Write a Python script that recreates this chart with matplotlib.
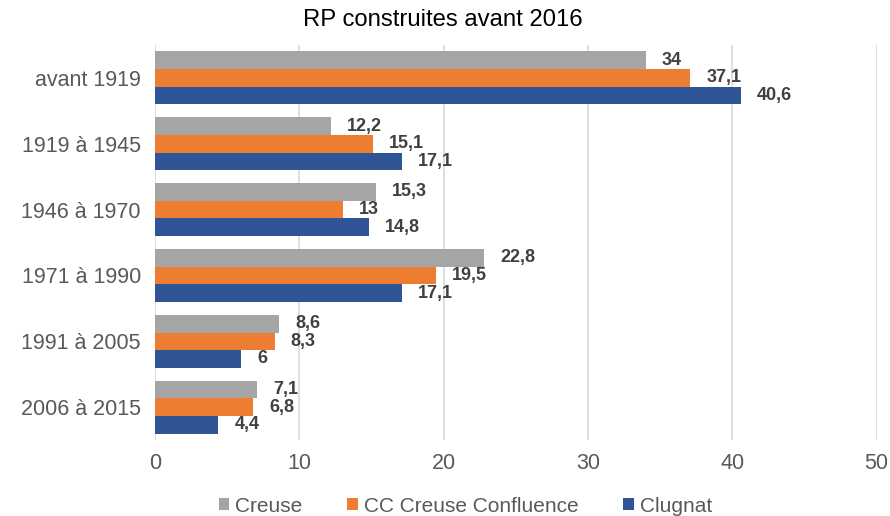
import matplotlib.pyplot as plt
import numpy as np

plt.rcParams['font.family'] = ['Liberation Sans', 'DejaVu Sans']

categories = ['avant 1919', '1919 à 1945', '1946 à 1970', '1971 à 1990', '1991 à 2005', '2006 à 2015']
creuse = [34, 12.2, 15.3, 22.8, 8.6, 7.1]
cc_confluence = [37.1, 15.1, 13, 19.5, 8.3, 6.8]
clugnat = [40.6, 17.1, 14.8, 17.1, 6, 4.4]

series = [('Creuse', creuse, '#A5A5A5'),
          ('CC Creuse Confluence', cc_confluence, '#ED7D31'),
          ('Clugnat', clugnat, '#2F5597')]

fig = plt.figure(figsize=(8.9, 5.16), dpi=100)
ax = fig.add_axes([0.174, 0.147, 0.811, 0.766])

y = np.arange(len(categories))
h = 0.268
for i, (name, vals, col) in enumerate(series):
    pos = y + (i - 1) * h
    ax.barh(pos, vals, height=h, color=col, label=name, zorder=2)
    for p, v in zip(pos, vals):
        ax.annotate(('%g' % v).replace('.', ','), (v, p), xytext=(16, 0),
                    textcoords='offset pixels', va='center', ha='left',
                    fontsize=13, fontweight='bold', color='#404040')

ax.set_ylim(len(categories) - 0.5, -0.5)
ax.set_xlim(0, 50)
ax.set_xticks(range(0, 51, 10))
ax.set_yticks(y)
ax.set_yticklabels(categories)
ax.tick_params(axis='both', length=0, labelsize=15.5, colors='#595959')
ax.tick_params(axis='y', pad=10)
ax.tick_params(axis='x', pad=9)
ax.xaxis.grid(True, color='#D9D9D9', linewidth=1.2, zorder=0)
ax.set_axisbelow(True)
for s in ax.spines.values():
    s.set_visible(False)

fig.text(0.498, 1 - 20 / 516, 'RP construites avant 2016', fontsize=17.2,
         color='#000000', ha='center', va='center')

leg = fig.legend(loc='center', bbox_to_anchor=(0.523, 1 - 506 / 516), ncol=3, frameon=False,
                 fontsize=15, handlelength=0.5, handleheight=0.5, handletextpad=0.3,
                 columnspacing=2.15, borderaxespad=0)
for t in leg.get_texts():
    t.set_color('#595959')

fig.savefig('out.png', dpi=100)
